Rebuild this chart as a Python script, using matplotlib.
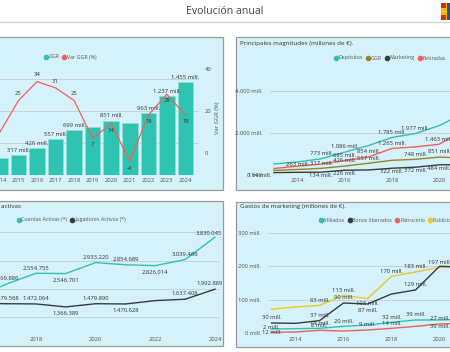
import matplotlib
matplotlib.use('Agg')
import matplotlib.pyplot as plt
from matplotlib.patches import Rectangle
from matplotlib.lines import Line2D

plt.rcParams['font.family'] = ['Open Sans', 'DejaVu Sans']

W, H = 450, 352

# panel 1: GGR and yearly change
years_ggr = [2014, 2015, 2016, 2017, 2018, 2019, 2020, 2021, 2022, 2023, 2024]
ggr = [263, 317, 426, 557, 699, 748, 851, 817, 963, 1237, 1455]
var_ggr = [10, 25, 34, 31, 25, 7, 14, -4, 18, 28, 18]

# panel 2: main magnitudes (millones de euros)
years_mag = [2013, 2014, 2015, 2016, 2017, 2018, 2019, 2020, 2021]
depositos = [524, 620, 773, 1086, 1400, 1785, 1977, 2350, 2900]
ggr_mag = [220, 263, 317, 426, 557, 699, 748, 851, 817]
marketing = [114, 128, 134, 226, 240, 322, 372, 484, 500]
retiradas = [310, 420, 520, 685, 854, 1265, 1340, 1463, 2100]

# panel 3: active accounts / players
years_act = [2016, 2017, 2018, 2019, 2020, 2021, 2022, 2023, 2024]
cuentas = [1700000, 2169886, 2554755, 2546701, 2933220, 2854689, 2826014, 3039466, 3830045]
jugadores = [1500000, 1479568, 1472064, 1366389, 1479890, 1470628, 1590000, 1637408, 1992889]

# panel 4: marketing spend
years_mkt = [2013, 2014, 2015, 2016, 2017, 2018, 2019, 2020, 2021]
afiliados = [12, 13, 14, 20, 24, 32, 39, 39, 41]
bonos = [30, 29, 37, 90, 87, 117, 129, 200, 198]
patrocinio = [2, 3, 8, 6, 9, 14, 20, 27, 29]
publicidad = [72, 78, 83, 113, 103, 170, 183, 197, 200]

BG = '#d5f1f9'
TEAL = '#2fc3b2'
RED = '#f0605a'
DARK = '#3b3b3b'
OLIVE = '#9a8426'
YELLOW = '#eec62e'
GRID = '#c3cfd4'
TXT = '#333333'
TICK = '#555555'
FS = 4.2
LFS = 3.8


def rect(x0, y0, x1, y1):
    return [x0 / W, 1 - y1 / H, (x1 - x0) / W, (y1 - y0) / H]


def panel(fig, x0, y0, x1, y1):
    fig.add_artist(Rectangle((x0 / W, 1 - y1 / H), (x1 - x0) / W, (y1 - y0) / H,
                             transform=fig.transFigure, fc=BG, ec='#9a9a9a', lw=0.9,
                             zorder=-10))


def setup(ax):
    ax.set_facecolor('none')
    for s in ax.spines.values():
        s.set_visible(False)
    ax.tick_params(length=0, labelsize=FS, colors=TICK)
    ax.yaxis.grid(True, color=GRID, lw=0.6)
    ax.set_axisbelow(True)


def mill(v):
    return f"{v:,} mill.".replace(",", ".")


def num(v):
    return f"{v:,}".replace(",", ".")


def labels(ax, xs, ys, idx, fn, dy, dx=0):
    for i in idx:
        ax.annotate(fn(ys[i]), (xs[i], ys[i]), xytext=(dx, dy), textcoords='offset points',
                    ha='center', va='bottom' if dy >= 0 else 'top',
                    fontsize=FS, color=TXT, annotation_clip=False)


def legend(ax, items, x, y):
    handles = [Line2D([], [], marker='o', ls='', color=c, ms=3.0, label=l) for l, c in items]
    ax.legend(handles=handles, ncol=len(items), loc='center left',
              bbox_to_anchor=(x / W, 1 - y / H), bbox_transform=ax.figure.transFigure,
              frameon=False, fontsize=LFS, handletextpad=0.0, columnspacing=0.4,
              borderpad=0, handlelength=1.1, labelcolor='#555555')


fig = plt.figure(figsize=(W / 100, H / 100), dpi=100)

# header
fig.text(225 / W, 1 - 12 / H, 'Evolución anual', ha='center', va='center', fontsize=7.6, color='#444444')
fig.add_artist(Line2D([0, 1], [1 - 22 / H] * 2, transform=fig.transFigure, color='#c6d4de', lw=0.9))
fig.add_artist(Rectangle((441 / W, 1 - 20 / H), 9 / W, 17 / H, transform=fig.transFigure,
                         fc='#f1bf00', ec='none'))
fig.add_artist(Rectangle((441 / W, 1 - 8 / H), 5 / W, 5 / H, transform=fig.transFigure,
                         fc='#d52b1e', ec='none'))
fig.add_artist(Rectangle((441 / W, 1 - 20 / H), 5 / W, 5 / H, transform=fig.transFigure,
                         fc='#d52b1e', ec='none'))
fig.add_artist(Rectangle((447 / W, 1 - 20 / H), 3 / W, 17 / H, transform=fig.transFigure,
                         fc='#2f4c9a', ec='none'))

panel(fig, -5, 37, 223, 190)
panel(fig, 236, 37, 455, 190)
panel(fig, -5, 201, 223, 346)
panel(fig, 236, 202, 455, 347)

# ---- panel 1
ax1 = fig.add_axes(rect(0, 60, 199, 175))
setup(ax1)
ax1.bar(years_ggr, ggr, width=0.84, color=TEAL, edgecolor='#8fe0d6', lw=0.6, zorder=2)
ax1.set_xlim(2014.206, 2024.735)
ax1.set_ylim(0, 1797)
ax1.set_yticks([500, 1000, 1500])
ax1.tick_params(labelleft=False, pad=2)
ax1.set_xticks(years_ggr)
for x, v in zip(years_ggr, ggr):
    if x not in (2014, 2019, 2021):
        ax1.annotate(mill(v), (x, v), xytext=(0, 1.5), textcoords='offset points',
                     ha='center', va='bottom', fontsize=FS, color=TXT)
ax1b = ax1.twinx()
setup(ax1b)
ax1b.yaxis.grid(False)
ax1b.plot(years_ggr, var_ggr, color=RED, lw=0.9, zorder=3)
ax1b.set_ylim(-10.48, 44.29)
ax1b.set_yticks([0, 20, 40])
ax1b.tick_params(pad=4)
ax1b.set_ylabel('Var GGR (%)', fontsize=FS, color=TICK, labelpad=3)
for x, v in zip(years_ggr[1:], var_ggr[1:]):
    ax1b.annotate(str(v), (x, v), xytext=(0, 3 if x <= 2018 else -3), textcoords='offset points',
                  ha='center', va='bottom' if x <= 2018 else 'top', fontsize=FS, color=TXT)
legend(ax1b, [('GGR', TEAL), ('Var GGR (%)', RED)], 40, 57)

# ---- panel 2
fig.text(240 / W, 1 - 44 / H, 'Principales magnitudes (millones de €).', fontsize=FS + 0.3,
         color=TXT, va='center')
ax2 = fig.add_axes(rect(270, 85, 470, 175))
setup(ax2)
ax2.set_xlim(2012.835, 2021.31)
ax2.set_ylim(0, 4286)
ax2.set_yticks([0, 2000, 4000])
ax2.set_yticklabels([mill(v) for v in [0, 2000, 4000]])
ax2.set_xticks([2014, 2016, 2018, 2020])
ax2.tick_params(axis='y', pad=5)
ax2.tick_params(axis='x', pad=2)
ax2.plot(years_mag, depositos, color=TEAL, lw=1)
ax2.plot(years_mag, retiradas, color=RED, lw=1)
ax2.plot(years_mag, ggr_mag, color=OLIVE, lw=1)
ax2.plot(years_mag, marketing, color=DARK, lw=1)
labels(ax2, years_mag, depositos, [2, 3, 5, 6], mill, 2)
labels(ax2, years_mag, retiradas, [3, 4, 5, 7], mill, 2)
labels(ax2, years_mag, ggr_mag, [1, 2, 3, 4, 6, 7], mill, 2)
labels(ax2, years_mag, marketing, [2, 3, 5, 6, 7], mill, -0.5)
labels(ax2, years_mag, marketing, [0], mill, -0.5, dx=-10)
legend(ax2, [('Depósitos', TEAL), ('GGR', OLIVE), ('Marketing', DARK), ('Retiradas', RED)], 330, 58)

# ---- panel 3
fig.text(21 / W, 1 - 207 / H, 'Jugadores y cuentas activas', fontsize=FS + 0.3, color=TXT,
         va='center', ha='right')
ax3 = fig.add_axes(rect(-20, 228, 219, 330))
setup(ax3)
ax3.set_xlim(2016.123, 2024.135)
ax3.set_ylim(551000, 4155000)
ax3.set_yticks([1000000, 2000000, 3000000, 4000000])
ax3.tick_params(labelleft=False, pad=5)
ax3.set_xticks([2018, 2020, 2022, 2024])
ax3.plot(years_act, cuentas, color=TEAL, lw=1)
ax3.plot(years_act, jugadores, color=DARK, lw=1)
labels(ax3, years_act, cuentas, [1, 2, 4, 5, 7], num, 2)
labels(ax3, years_act, cuentas, [3, 6], num, -3)
labels(ax3, years_act, cuentas, [8], num, 1, dx=-4)
labels(ax3, years_act, jugadores, [1, 2, 4, 7], num, 2)
labels(ax3, years_act, jugadores, [3, 5], num, -3)
labels(ax3, years_act, jugadores, [8], num, 2, dx=-4)
legend(ax3, [('Cuentas Activas (*)', TEAL), ('Jugadores Activos (*)', DARK)], 13, 220)

# ---- panel 4
fig.text(240 / W, 1 - 207 / H, 'Gastos de marketing (millones de €).', fontsize=FS + 0.3,
         color=TXT, va='center')
ax4 = fig.add_axes(rect(268, 228, 470, 333))
setup(ax4)
ax4.set_xlim(2012.854, 2021.27)
ax4.set_ylim(0, 315)
ax4.set_yticks([0, 100, 200, 300])
ax4.set_yticklabels([mill(v) for v in [0, 100, 200, 300]])
ax4.set_xticks([2014, 2016, 2018, 2020])
ax4.tick_params(axis='y', pad=5)
ax4.tick_params(axis='x', pad=3)
ax4.plot(years_mkt, publicidad, color=YELLOW, lw=1)
ax4.plot(years_mkt, bonos, color=DARK, lw=1)
ax4.plot(years_mkt, afiliados, color=TEAL, lw=1)
ax4.plot(years_mkt, patrocinio, color=RED, lw=1)
labels(ax4, years_mkt, publicidad, [2, 3, 5, 6, 7], mill, 2)
labels(ax4, years_mkt, publicidad, [4], mill, -1.5)
labels(ax4, years_mkt, bonos, [0, 2, 3, 6], mill, 2)
labels(ax4, years_mkt, bonos, [4], mill, -3)
labels(ax4, years_mkt, afiliados, [0], mill, -0.5)
labels(ax4, years_mkt, afiliados, [2, 3, 5, 6], mill, 2)
labels(ax4, years_mkt, afiliados, [7], mill, -3)
labels(ax4, years_mkt, patrocinio, [0, 2, 4, 5, 7], mill, 2)
legend(ax4, [('Afiliados', TEAL), ('Bonos liberados', DARK), ('Patrocinio', RED),
             ('Publicidad', YELLOW)], 315, 220)

fig.savefig('out.png', dpi=100)
